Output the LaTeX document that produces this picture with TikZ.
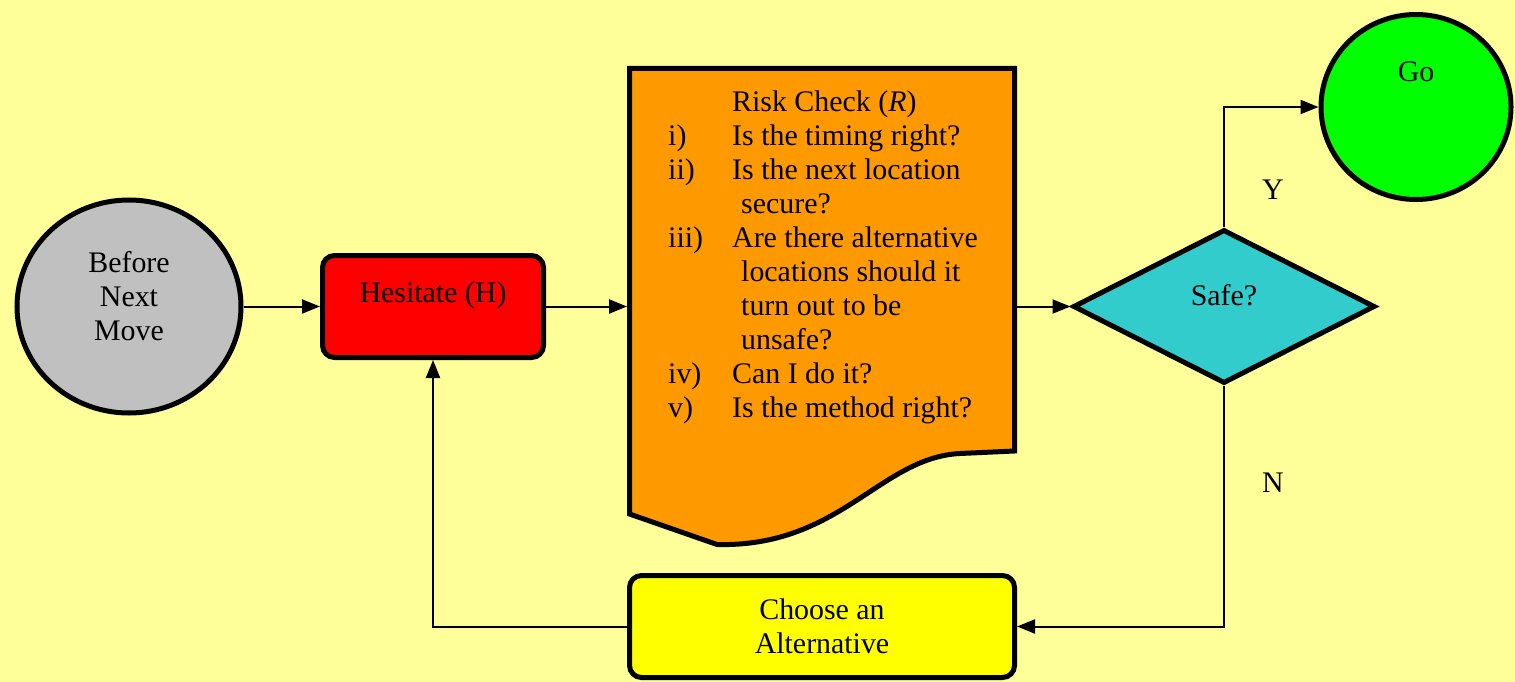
\documentclass[tikz,border=0pt]{standalone}
\usepackage{fontspec}
\setmainfont{Liberation Serif}
\usetikzlibrary{shapes.geometric,arrows.meta}
\definecolor{bgyellow}{RGB}{255,255,153}
\definecolor{startgray}{RGB}{192,192,192}
\definecolor{hesred}{RGB}{255,0,0}
\definecolor{riskorange}{RGB}{255,153,0}
\definecolor{safeteal}{RGB}{51,204,204}
\definecolor{gogreen}{RGB}{0,255,0}
\definecolor{altyellow}{RGB}{255,255,0}
\begin{document}
\begin{tikzpicture}[x=1bp,y=-1bp,
  shapeline/.style={draw=black, line width=5bp},
  conn/.style={line width=2bp, -{Triangle[length=18bp,width=14bp]}},
  txt/.style={font=\fontsize{30}{34.2}\selectfont},
  boxnode/.style={rectangle, rounded corners=12bp, shapeline, inner sep=0}]
\useasboundingbox (0,0) rectangle (1515,682);
\fill[bgyellow] (0,0) rectangle (1515,682);

\node[ellipse, shapeline, fill=startgray, minimum width=224bp, minimum height=213bp, inner sep=0,
  label={[txt, align=center, yshift=10bp, name=beforetxt]center:Before\\Next\\Move}] (before) at (129,306.5) {};

\node[boxnode, fill=hesred, minimum width=221bp, minimum height=102bp,
  label={[txt, yshift=11bp, name=hestxt]center:Hesitate (H)}] (hes) at (433,306.5) {};

\node[minimum width=385bp, minimum height=476bp, inner sep=0, outer sep=2.5bp] (risk) at (822,306.5) {};
\filldraw[fill=riskorange, draw=black, line width=5bp, line join=miter]
  (629.5,68.5) -- (1014.5,68.5) -- (1014.5,451) -- (960,453.5)
  .. controls (880,457.5) and (840,547.5) .. (717,544.5) -- (629.5,514) -- cycle;
\node[txt, anchor=north west, inner sep=0] (risktext) at (668,87) {%
\begin{tabular}{@{}p{64bp}@{}l@{}}
 & Risk Check (\textit{R})\\
i) & Is the timing right?\\
ii) & Is the next location\\
 & \hspace{9bp}secure?\\
iii) & Are there alternative\\
 & \hspace{9bp}locations should it\\
 & \hspace{9bp}turn out to be\\
 & \hspace{9bp}unsafe?\\
iv) & Can I do it?\\
v) & Is the method right?
\end{tabular}};

\node[diamond, shapeline, fill=safeteal, minimum width=302bp, minimum height=154bp, inner sep=0,
  label={[txt, yshift=11bp, name=safetxt]center:Safe?}] (dia) at (1224,306.5) {};

\node[ellipse, shapeline, fill=gogreen, minimum width=190bp, minimum height=185bp, inner sep=0,
  label={[txt, yshift=35bp, name=gotxt]center:Go}] (go) at (1416,107) {};

\node[boxnode, fill=altyellow, minimum width=385bp, minimum height=102bp, txt, align=center] (alt) at (822,626.5) {Choose an\\Alternative};

\node[txt] (ylab) at (1273,190) {Y};
\node[txt] (nlab) at (1273,483) {N};

\draw[conn] (before.east) -- (hes.west);
\draw[conn] (hes.east) -- (risk.west);
\draw[conn] (risk.east) -- (dia.west);
\draw[conn] (dia.north) |- (go.west);
\draw[conn] (dia.south) |- (alt.east);
\draw[conn] (alt.west) -| (hes.south);
\end{tikzpicture}
\end{document}
